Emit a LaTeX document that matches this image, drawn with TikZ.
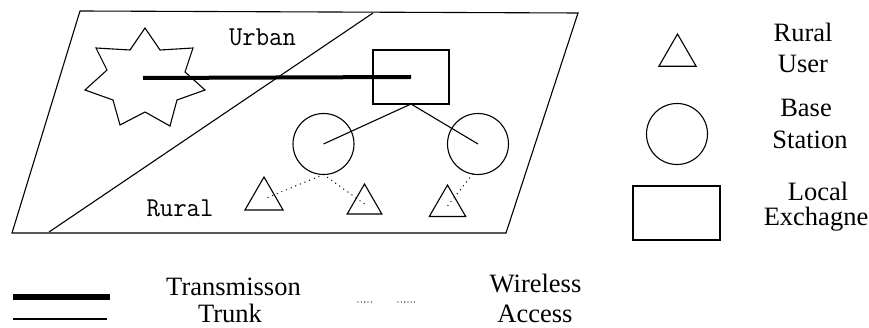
\documentclass[tikz,border=0pt]{standalone}
\usepackage{fontspec}
\usetikzlibrary{shapes.geometric}
\newfontfamily\seriff{Liberation Serif}
\begin{document}
\begin{tikzpicture}[x=1pt,y=-1pt,line width=1.1pt,
  tri/.style={regular polygon,regular polygon sides=3,draw,inner sep=0pt,outer sep=0pt,minimum size=#1},
  bs/.style={circle,draw,minimum size=61pt,inner sep=0pt,outer sep=0pt},
  lexbox/.style={rectangle,draw,inner sep=0pt,outer sep=0pt},
  trunk/.style={line width=4pt},
  wl/.style={line width=1.4pt,line cap=round,dash pattern=on 0pt off 5pt},
  wlleg/.style={line width=1.3pt,line cap=round,dash pattern=on 0pt off 3.3pt},
  monotxt/.style={font=\ttfamily\fontsize{26}{28}\selectfont,inner sep=0pt,anchor=base,yscale=1.05},
  lgtxt/.style={font=\seriff\fontsize{26.5}{28}\selectfont,inner sep=0pt,anchor=base}]
\useasboundingbox (0,0) rectangle (869,328);
% region
\coordinate (p1) at (80,11);
\coordinate (p2) at (578,13);
\coordinate (p3) at (506,233);
\coordinate (p4) at (12,233);
\draw (p1) -- (p2) -- (p3) -- (p4) -- cycle;
\coordinate (d1) at (373,13);
\coordinate (d2) at (49,232);
\draw (d1) -- (d2);
% star (city)
\draw (145,28) -- (160,50) -- (193,48) -- (185,72) -- (205,90) -- (177,100) -- (170,126)
  -- (145,112) -- (120,125) -- (113,100) -- (85,90) -- (107,70) -- (96,48) -- (130,50) -- cycle;
\coordinate (city) at (143,78);
% local exchange
\node[lexbox,minimum width=76pt,minimum height=54pt] (lex) at (411,77) {};
% base stations
\node[bs] (bs1) at (323.5,144) {};
\node[bs] (bs2) at (478,144) {};
% users
\node[tri=44pt] (u1) at (264,199) {};
\node[tri=40pt] (u2) at (364.5,204) {};
\node[tri=42pt] (u3) at (447.5,206) {};
% connectors
\draw[trunk] (city) -- (lex.center);
\draw (lex.south) -- (bs1.center);
\draw (lex.south) -- (bs2.center);
\draw[wl] (bs1.south) -- (u1.center);
\draw[wl] (bs1.south) -- (u2.center);
\draw[wl] (bs2.-100) -- (u3.center);
% labels
\node[monotxt] (urban) at (262.5,46) {Urban};
\node[monotxt] (rural) at (180,217) {Rural};
% legend right
\node[tri=43pt] (lu) at (677.5,55.5) {};
\node[bs] (lbs) at (677,134) {};
\node[lexbox,minimum width=87pt,minimum height=54pt] (llex) at (676.5,213) {};
\node[lgtxt] (t1) at (803,42) {Rural};
\node[lgtxt] (t2) at (803,73) {User};
\node[lgtxt] (t3) at (806,117) {Base};
\node[lgtxt] (t4) at (810,149) {Station};
\node[lgtxt] (t5) at (818,201) {Local};
\node[lgtxt] (t6) at (816,226) {Exchagne};
% legend bottom
\coordinate (a1) at (13,297);
\coordinate (a2) at (110,297);
\draw[line width=5.5pt] (a1) -- (a2);
\coordinate (b1) at (13,319);
\coordinate (b2) at (107,319);
\draw[line width=2pt] (b1) -- (b2);
\node[lgtxt] (t7) at (233.5,295) {Transmisson};
\node[lgtxt] (t8) at (230,322) {Trunk};
\coordinate (c1) at (358,302);
\coordinate (c2) at (372,302);
\draw[wlleg] (c1) -- (c2);
\coordinate (c3) at (398,302);
\coordinate (c4) at (416,302);
\draw[wlleg] (c3) -- (c4);
\node[lgtxt] (t9) at (535.5,292) {Wireless};
\node[lgtxt] (t10) at (535,322) {Access};
\end{tikzpicture}
\end{document}
